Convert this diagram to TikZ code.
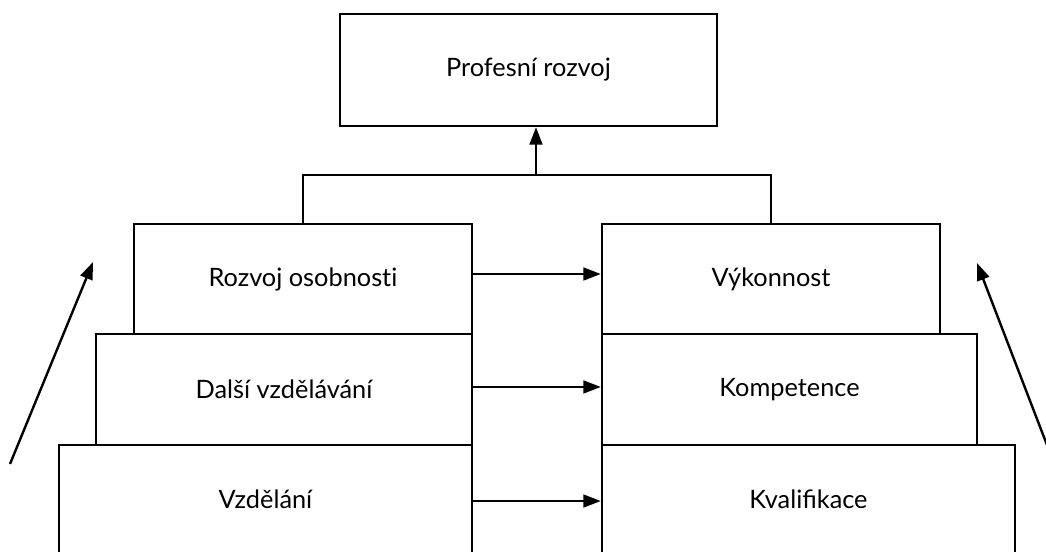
\documentclass[tikz,border=0pt]{standalone}
\usepackage{fontspec}
\setmainfont{Lato}
\usetikzlibrary{arrows.meta}
\begin{document}
\begin{tikzpicture}[x=0.75pt,y=-0.75pt,
  box/.style={draw, line width=1.8pt, inner sep=0pt, font=\fontsize{19}{23}\selectfont},
  link/.style={line width=1.8pt},
  arr/.style={line width=1.8pt, -{Triangle[length=13pt,width=9.5pt]}}]
\useasboundingbox (0,0) rectangle (1046,551);

% goal at the top
\node[box, minimum width=377*0.75pt, minimum height=112*0.75pt] (top) at (528.5,70) {Profesní rozvoj};

% left staircase
\node[box, minimum width=338*0.75pt, minimum height=110*0.75pt] (r1) at (303,279) {Rozvoj osobnost\kern0pt i};
\node[box, minimum width=376*0.75pt, minimum height=111*0.75pt] (r2) at (284,389.5) {Další vzdělávání};
\node[box, minimum width=413*0.75pt, minimum height=112*0.75pt] (r3) at (265.5,501) {\raisebox{3pt}{Vzdělání}};

% right staircase
\node[box, minimum width=338*0.75pt, minimum height=110*0.75pt] (p1) at (771,279) {Výkonnost};
\node[box, minimum width=375*0.75pt, minimum height=111*0.75pt] (p2) at (789.5,389.5) {Kompetence};
\node[box, minimum width=413*0.75pt, minimum height=112*0.75pt] (p3) at (808.5,501) {\raisebox{3pt}{Kvalifikace}};

% level-to-level arrows
\draw[arr] ([yshift=3.75pt]r1.east) -- ([yshift=3.75pt]p1.west);
\draw[arr] ([yshift=1.9pt]r2.east) -- ([yshift=1.9pt]p2.west);
\draw[arr] (r3.east) -- (p3.west);

% joining bracket and arrow to the goal
\coordinate (bar) at (536,175);
\draw[link] (r1.north) -- (r1.north |- bar) -- (p1.north |- bar) -- (p1.north);
\draw[arr] (bar) -- (top.south -| bar);

% rising arrows on both sides
\coordinate (lt) at (10,464);
\coordinate (lh) at (93,262);
\coordinate (rt) at (1052,458);
\coordinate (rh) at (977,263);
\draw[arr] (lt) -- (lh);
\draw[arr] (rt) -- (rh);
\end{tikzpicture}
\end{document}
